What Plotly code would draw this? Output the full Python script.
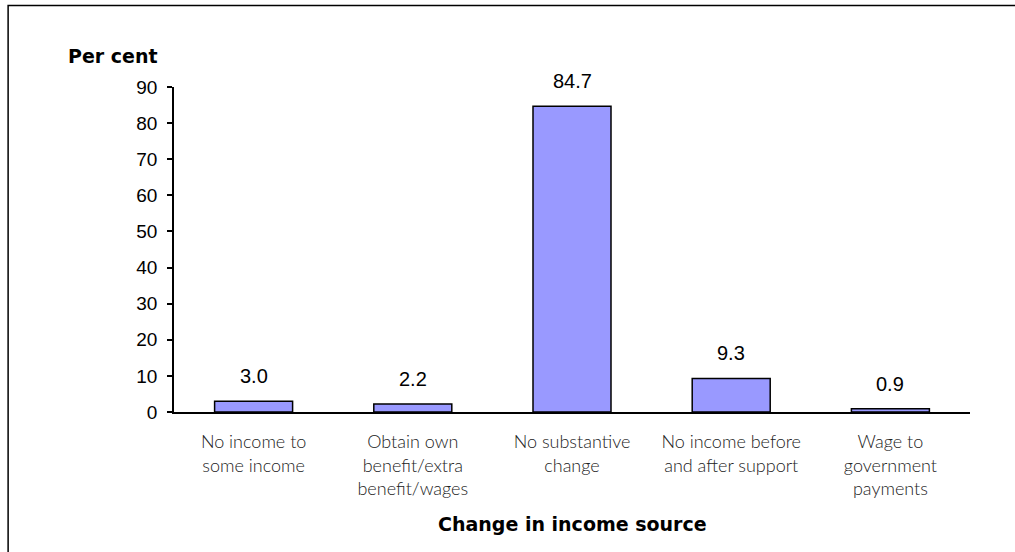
import plotly.graph_objects as go

# Share of clients by change in income source
categories = [
    "No income to<br>some income",
    "Obtain own<br>benefit/extra<br>benefit/wages",
    "No substantive<br>change",
    "No income before<br>and after support",
    "Wage to<br>government<br>payments",
]
values = [3.0, 2.2, 84.7, 9.3, 0.9]
y_ticks = [0, 10, 20, 30, 40, 50, 60, 70, 80, 90]

SANS = "Liberation Sans, Arial, sans-serif"
BOLD = "DejaVu Sans, Liberation Sans, sans-serif"

fig = go.Figure()
fig.add_trace(go.Bar(
    x=categories,
    y=values,
    marker=dict(color="#9999FF", line=dict(color="black", width=1.5)),
    width=0.49,
    hoverinfo="skip",
))

# Value labels above each bar
for c, v in zip(categories, values):
    fig.add_annotation(
        x=c, y=v, text=f"{v:.1f}", showarrow=False,
        yanchor="bottom", yshift=12,
        font=dict(family=SANS, size=20, color="black"),
    )

fig.add_annotation(
    xref="paper", yref="paper", x=-0.1357, y=1.095, xanchor="left", yanchor="middle",
    text="<b>Per cent</b>", showarrow=False,
    font=dict(family=BOLD, size=19, color="black"),
)
fig.add_annotation(
    xref="paper", yref="paper", x=0.5, y=-0.345, xanchor="center", yanchor="middle",
    text="<b>Change in income source</b>", showarrow=False,
    font=dict(family=BOLD, size=19, color="black"),
)

# Outer frame
fig.add_shape(
    type="rect", xref="paper", yref="paper",
    x0=-0.2084, x1=1.06, y0=-0.5, y1=1.2509,
    line=dict(color="black", width=1.5), fillcolor="rgba(0,0,0,0)", layer="below",
)

fig.update_layout(
    width=1015, height=552,
    margin=dict(l=174, r=45, t=87, b=140),
    paper_bgcolor="white", plot_bgcolor="white",
    showlegend=False,
    font=dict(family=SANS, color="black"),
    xaxis=dict(
        showline=True, linecolor="black", linewidth=1.5,
        ticks="", showgrid=False, zeroline=False,
        ticklabelstandoff=13,
        tickfont=dict(family="Lato, Open Sans, sans-serif", size=18, color="#222", weight=300),
        fixedrange=True,
    ),
    yaxis=dict(
        range=[0, 90], tickvals=y_ticks,
        showline=True, linecolor="black", linewidth=1.5,
        ticks="outside", ticklen=5, tickwidth=1.5, tickcolor="black",
        ticklabelstandoff=6,
        showgrid=False, zeroline=False,
        tickfont=dict(family=SANS, size=19, color="black"),
        fixedrange=True,
    ),
)

fig.write_html("out.html")
